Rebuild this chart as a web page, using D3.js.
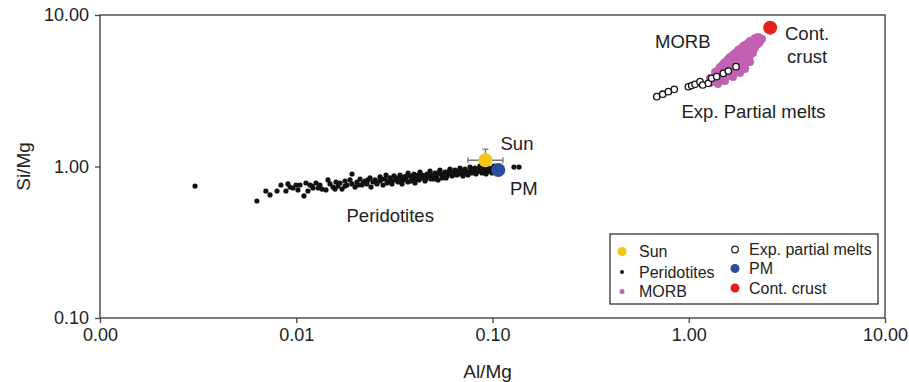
<!DOCTYPE html>
<html>
<head>
<meta charset="utf-8">
<script src="https://cdn.jsdelivr.net/npm/d3@7"></script>
<style>
  body { margin: 0; background: #fff; }
  svg { display: block; font-family: "Liberation Sans", Arial, Helvetica, sans-serif; }
  .tick text { font-size: 18px; fill: #222; }
  .tick line { stroke: #444; stroke-width: 1.3; }
</style>
</head>
<body>
<svg id="chart" width="909" height="382"></svg>
<script>
// tick values shown on both log axes
const xTicks = [0.001, 0.01, 0.1, 1, 10]
const yTicks = [0.1, 1, 10]

// [Al/Mg, Si/Mg]
const peridotites = [
  [0.00305, 0.743], [0.0063, 0.592], [0.0070, 0.689], [0.00735, 0.649], [0.00836, 0.755],
  [0.00886, 0.689], [0.00929, 0.732], [0.00962, 0.721], [0.0102, 0.700], [0.01045, 0.755],
  [0.01095, 0.639], [0.01121, 0.778], [0.01148, 0.689], [0.01203, 0.743], [0.01217, 0.721],
  [0.01261, 0.778], [0.01321, 0.755], [0.01352, 0.710], [0.01417, 0.700], [0.01451, 0.815],
  [0.01486, 0.767], [0.01539, 0.732], [0.01594, 0.790], [0.01632, 0.743], [0.01671, 0.778],
  [0.01711, 0.710], [0.01772, 0.802], [0.01814, 0.755], [0.01879, 0.815], [0.01924, 0.892],
  [0.01924, 0.767], [0.01993, 0.732], [0.0204, 0.790], [0.02113, 0.827], [0.02163, 0.755],
  [0.02241, 0.802], [0.02294, 0.767], [0.02376, 0.840], [0.02404, 0.732], [0.02461, 0.790],
  [0.0252, 0.815], [0.02579, 0.767], [0.02672, 0.853], [0.02672, 0.802], [0.02768, 0.755],
  [0.02833, 0.827], [0.02867, 0.879], [0.02935, 0.790], [0.03004, 0.840], [0.03075, 0.767],
  [0.03148, 0.866], [0.03185, 0.815], [0.033, 0.790], [0.03379, 0.879], [0.03379, 0.840],
  [0.03459, 0.767], [0.03541, 0.853], [0.03625, 0.815], [0.03712, 0.906], [0.03712, 0.790],
  [0.03799, 0.866], [0.03889, 0.827], [0.03981, 0.892], [0.04028, 0.778], [0.04124, 0.853],
  [0.04222, 0.815], [0.04272, 0.920], [0.04373, 0.879], [0.04425, 0.840], [0.0453, 0.802],
  [0.04638, 0.892], [0.04692, 0.853], [0.04804, 0.934], [0.04861, 0.827], [0.04976, 0.879],
  [0.05094, 0.906], [0.05154, 0.853], [0.05277, 0.815], [0.05402, 0.948], [0.05466, 0.892],
  [0.05595, 0.866], [0.05728, 0.920], [0.05796, 0.840], [0.05934, 0.892], [0.06074, 0.962],
  [0.06146, 0.920], [0.06218, 0.866], [0.06366, 0.906], [0.06441, 0.948], [0.06594, 0.879],
  [0.06672, 0.920], [0.0683, 0.977], [0.06911, 0.892], [0.06992, 0.934], [0.07158, 0.906],
  [0.07243, 0.962], [0.07415, 0.920], [0.07502, 0.879], [0.07681, 0.992], [0.07772, 0.948],
  [0.07863, 0.906], [0.0805, 0.934], [0.08145, 0.977], [0.08339, 0.920], [0.08437, 0.962],
  [0.08637, 1.008], [0.08739, 0.934], [0.08842, 0.906], [0.09052, 0.977], [0.09159, 0.948],
  [0.09376, 0.920], [0.09487, 0.992], [0.09712, 0.962], [0.09827, 0.934], [0.1006, 0.977],
  [0.103, 0.948], [0.1287, 0.992], [0.1365, 0.992],
  [0.01772, 0.743], [0.02064, 0.755], [0.02189, 0.778], [0.02321, 0.815], [0.02549, 0.790],
  [0.02735, 0.827], [0.02901, 0.778], [0.03039, 0.802], [0.03223, 0.840], [0.03338, 0.815],
  [0.0350, 0.815], [0.03668, 0.866], [0.03844, 0.802], [0.03935, 0.853], [0.04076, 0.827],
  [0.04173, 0.879], [0.04322, 0.840], [0.04477, 0.866], [0.04583, 0.827], [0.04747, 0.879],
  [0.04918, 0.853], [0.05035, 0.827], [0.05215, 0.879], [0.05339, 0.920], [0.0553, 0.840],
  [0.05661, 0.892], [0.05864, 0.866], [0.06003, 0.934], [0.06291, 0.879], [0.06517, 0.906],
  [0.0675, 0.934], [0.07075, 0.866], [0.07328, 0.934], [0.0759, 0.906], [0.07956, 0.962],
  [0.08241, 0.892], [0.08536, 0.934], [0.08946, 0.948], [0.09267, 0.892], [0.09598, 0.948],
  [0.09942, 0.906], [0.1018, 1.008], [0.1054, 0.977], [0.01576, 0.710], [0.01291, 0.721],
  [0.01175, 0.755], [0.00997, 0.755], [0.00798, 0.689], [0.00907, 0.767]
]

const morb = [
  [1.283, 3.84], [1.283, 3.56], [1.329, 3.72], [1.361, 4.21], [1.361, 3.90], [1.361, 3.61],
  [1.410, 4.33], [1.410, 3.78], [1.410, 3.51], [1.443, 4.54], [1.443, 4.21], [1.443, 3.90],
  [1.443, 3.67], [1.495, 4.75], [1.495, 4.08], [1.530, 4.90], [1.530, 4.54], [1.530, 4.21],
  [1.530, 3.90], [1.530, 3.67], [1.585, 5.12], [1.585, 4.40], [1.585, 4.02], [1.623, 5.28],
  [1.623, 4.90], [1.623, 4.54], [1.623, 4.21], [1.623, 3.96], [1.681, 5.44], [1.681, 4.68],
  [1.681, 4.33], [1.681, 3.90], [1.721, 5.61], [1.721, 5.20], [1.721, 4.82], [1.721, 4.47],
  [1.721, 4.14], [1.783, 5.87], [1.783, 5.05], [1.783, 4.61], [1.825, 5.96], [1.825, 5.53],
  [1.825, 5.12], [1.825, 4.75], [1.825, 4.40], [1.825, 4.14], [1.890, 6.24], [1.890, 5.36],
  [1.890, 4.90], [1.935, 6.34], [1.935, 5.87], [1.935, 5.44], [1.935, 5.05], [1.935, 4.68],
  [1.935, 4.40], [2.004, 6.54], [2.004, 5.70], [2.004, 5.20], [2.052, 6.74], [2.052, 6.24],
  [2.052, 5.79], [2.052, 5.36], [2.052, 4.90], [2.125, 6.84], [2.125, 6.06], [2.125, 5.61],
  [2.176, 7.05], [2.176, 6.54], [2.176, 6.06], [2.254, 7.16], [2.254, 6.44], [2.307, 7.05],
  [2.307, 6.64], [2.362, 6.94]
]

const expMelts = [
  [0.687, 2.89], [0.737, 3.00], [0.787, 3.12], [0.844, 3.23], [0.995, 3.36], [1.035, 3.42],
  [1.076, 3.49], [1.141, 3.63], [1.178, 3.45], [1.258, 3.54], [1.309, 3.82], [1.388, 3.92],
  [1.500, 4.12], [1.591, 4.27], [1.741, 4.56]
]

const sun = [0.092, 1.10]
const sunErr = { xLo: 0.075, xHi: 0.113, yHi: 1.30 }
const pm = [0.107, 0.948]
const contCrust = [2.6, 8.25]

const colors = { sun: '#f6c614', pm: '#2f4b9f', crust: '#e4221d', morb: '#c261b1', perid: '#111' }

const legendLeft = [
  { label: 'Sun', color: colors.sun, r: 4.5 },
  { label: 'Peridotites', color: colors.perid, r: 2 },
  { label: 'MORB', color: colors.morb, r: 2.5 }
]
const legendRight = [
  { label: 'Exp. partial melts', color: 'none', r: 3.3 },
  { label: 'PM', color: colors.pm, r: 4.5 },
  { label: 'Cont. crust', color: colors.crust, r: 4.5 }
]

const margin = { top: 15, right: 24, bottom: 64, left: 100 }
const width = 909 - margin.left - margin.right
const height = 382 - margin.top - margin.bottom

const svg = d3.select('#chart')
const g = svg.append('g').attr('transform', `translate(${margin.left},${margin.top})`)

const x = d3.scaleLog().domain([0.001, 10]).range([0, width])
const y = d3.scaleLog().domain([0.1, 10]).range([height, 0])

const fmt = d3.format('.2f')

const xAxis = g.append('g')
  .attr('transform', `translate(0,${height})`)
  .call(d3.axisBottom(x).tickValues(xTicks).tickFormat(fmt).tickSize(5).tickSizeOuter(0).tickPadding(5))
xAxis.select('.domain').remove()

const yAxis = g.append('g')
  .call(d3.axisLeft(y).tickValues(yTicks).tickFormat(fmt).tickSize(5).tickSizeOuter(0).tickPadding(6))
yAxis.select('.domain').remove()

// plot frame
g.append('rect')
  .attr('width', width)
  .attr('height', height)
  .attr('fill', 'none')
  .attr('stroke', '#444')
  .attr('stroke-width', 1.4)

g.append('text')
  .attr('x', width / 2 - 5)
  .attr('y', height + 60)
  .attr('text-anchor', 'middle')
  .attr('font-size', 19)
  .attr('fill', '#222')
  .text('Al/Mg')

g.append('text')
  .attr('transform', `translate(${-70},${height / 2}) rotate(-90)`)
  .attr('text-anchor', 'middle')
  .attr('font-size', 19)
  .attr('fill', '#222')
  .text('Si/Mg')

// data
g.append('g').selectAll('circle')
  .data(peridotites)
  .join('circle')
  .attr('cx', (d) => x(d[0]))
  .attr('cy', (d) => y(d[1]))
  .attr('r', 2.6)
  .attr('fill', colors.perid)

g.append('g').selectAll('circle')
  .data(morb)
  .join('circle')
  .attr('cx', (d) => x(d[0]))
  .attr('cy', (d) => y(d[1]))
  .attr('r', 4)
  .attr('fill', colors.morb)

g.append('g').selectAll('circle')
  .data(expMelts)
  .join('circle')
  .attr('cx', (d) => x(d[0]))
  .attr('cy', (d) => y(d[1]))
  .attr('r', 3.2)
  .attr('fill', '#fff')
  .attr('stroke', '#111')
  .attr('stroke-width', 1.3)

// sun error bars
const err = g.append('g').attr('stroke', '#777').attr('stroke-width', 1.3)
err.append('line')
  .attr('x1', x(sunErr.xLo)).attr('x2', x(sunErr.xHi))
  .attr('y1', y(sun[1])).attr('y2', y(sun[1]))
err.append('line')
  .attr('x1', x(sunErr.xLo)).attr('x2', x(sunErr.xLo))
  .attr('y1', y(sun[1]) - 3).attr('y2', y(sun[1]) + 3)
err.append('line')
  .attr('x1', x(sunErr.xHi)).attr('x2', x(sunErr.xHi))
  .attr('y1', y(sun[1]) - 3).attr('y2', y(sun[1]) + 3)
err.append('line')
  .attr('x1', x(sun[0])).attr('x2', x(sun[0]))
  .attr('y1', y(sun[1])).attr('y2', y(sunErr.yHi))
err.append('line')
  .attr('x1', x(sun[0]) - 3).attr('x2', x(sun[0]) + 3)
  .attr('y1', y(sunErr.yHi)).attr('y2', y(sunErr.yHi))

const bigDots = [
  { p: sun, color: colors.sun },
  { p: pm, color: colors.pm },
  { p: contCrust, color: colors.crust }
]
g.append('g').selectAll('circle')
  .data(bigDots)
  .join('circle')
  .attr('cx', (d) => x(d.p[0]))
  .attr('cy', (d) => y(d.p[1]))
  .attr('r', 7)
  .attr('fill', (d) => d.color)

// annotations
const notes = [
  { t: 'Sun', x: 400.5, y: 135 },
  { t: 'PM', x: 410, y: 180 },
  { t: 'Peridotites', x: 246.5, y: 206.5 },
  { t: 'MORB', x: 555, y: 33 },
  { t: 'Cont.', x: 685, y: 25 },
  { t: 'crust', x: 687, y: 48 },
  { t: 'Exp. Partial melts', x: 581.5, y: 103 }
]
g.append('g').selectAll('text')
  .data(notes)
  .join('text')
  .attr('x', (d) => d.x)
  .attr('y', (d) => d.y)
  .attr('font-size', 18.5)
  .attr('fill', '#222')
  .text((d) => d.t)

// legend
const legend = g.append('g').attr('transform', 'translate(510,219)')
legend.append('rect')
  .attr('width', 268)
  .attr('height', 70)
  .attr('fill', '#fff')
  .attr('stroke', '#222')
  .attr('stroke-width', 1.2)

function legendColumn (items, left, textLeft, rowY) {
  const rows = legend.append('g').selectAll('g')
    .data(items)
    .join('g')
    .attr('transform', (d, i) => `translate(0,${rowY[i]})`)
  rows.append('circle')
    .attr('cx', left)
    .attr('r', (d) => d.r)
    .attr('fill', (d) => d.color === 'none' ? '#fff' : d.color)
    .attr('stroke', (d) => d.color === 'none' ? '#222' : 'none')
    .attr('stroke-width', 1.2)
  rows.append('text')
    .attr('x', textLeft)
    .attr('dy', '0.35em')
    .attr('font-size', 16)
    .attr('fill', '#222')
    .text((d) => d.label)
}
legendColumn(legendLeft, 12, 29, [17.5, 38, 57.5])
legendColumn(legendRight, 125, 139, [15.5, 34.5, 54])
</script>
</body>
</html>
